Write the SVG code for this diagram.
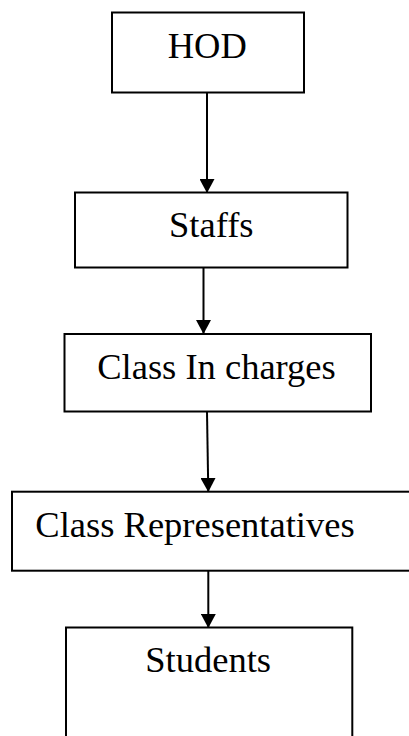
<svg xmlns="http://www.w3.org/2000/svg" width="409" height="736" viewBox="0 0 409 736">
<style>
.box{fill:#fff;stroke:#000;stroke-width:2}
.lbl{font-family:"Liberation Serif","Times New Roman",serif;font-size:36.5px;fill:#000;text-anchor:middle}
.conn{stroke:#000;stroke-width:2;fill:none}
</style>
<defs>
<marker id="ah" markerUnits="userSpaceOnUse" markerWidth="14" markerHeight="15" refX="14" refY="7.5" orient="auto" viewBox="0 0 14 15">
<path d="M0,0 L14,7.5 L0,15 z" fill="#000"/>
</marker>
</defs>
<rect width="409" height="736" fill="#fff"/>
<g id="connectors">
<line class="conn" x1="207" y1="92" x2="207" y2="193" marker-end="url(#ah)"/>
<line class="conn" x1="203.5" y1="268" x2="203.5" y2="334" marker-end="url(#ah)"/>
<line class="conn" x1="207" y1="412" x2="208.3" y2="492" marker-end="url(#ah)"/>
<line class="conn" x1="208.3" y1="571" x2="208.3" y2="628" marker-end="url(#ah)"/>
</g>
<g id="hod">
<rect class="box" x="112" y="12.5" width="192" height="80"/>
<text class="lbl" x="207.3" y="57.7">HOD</text>
</g>
<g id="staffs">
<rect class="box" x="75" y="192.5" width="272.5" height="75"/>
<text class="lbl" x="211.3" y="236.7">Staffs</text>
</g>
<g id="class-in-charges">
<rect class="box" x="64.5" y="334" width="306.5" height="77.5"/>
<text class="lbl" x="216.5" y="379.3">Class In charges</text>
</g>
<g id="class-representatives">
<rect class="box" x="12" y="491.7" width="410" height="79"/>
<text class="lbl" x="195" y="536.7">Class Representatives</text>
</g>
<g id="students">
<rect class="box" x="66" y="627.5" width="286.3" height="130"/>
<text class="lbl" x="208.2" y="672.3">Students</text>
</g>
</svg>
